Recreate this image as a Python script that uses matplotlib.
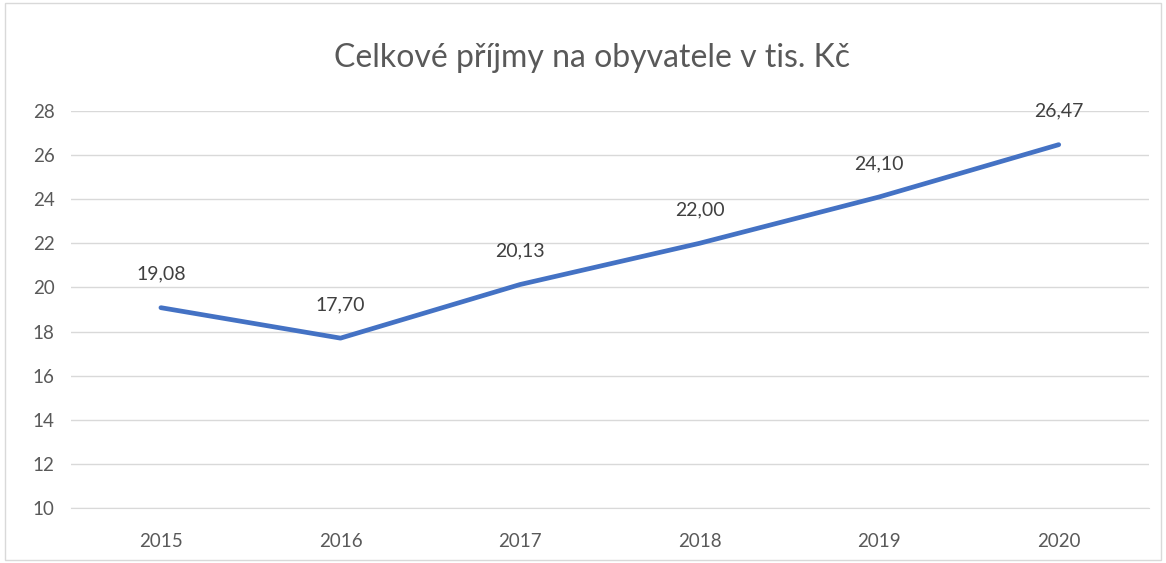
import matplotlib.pyplot as plt
from matplotlib.patches import Rectangle

plt.rcParams['font.family'] = ['Lato', 'DejaVu Sans']

roky = ["2015", "2016", "2017", "2018", "2019", "2020"]
prijmy = [19.08, 17.70, 20.13, 22.00, 24.10, 26.47]
y_ticks = [10, 12, 14, 16, 18, 20, 22, 24, 26, 28]

fig = plt.figure(figsize=(11.66, 5.63), dpi=100)
ax = fig.add_axes([0.061, 0.0977, 0.924, 0.7053])

x = range(len(roky))
ax.plot(x, prijmy, color="#4472C4", linewidth=3.4, solid_capstyle="round")

for xi, v in zip(x, prijmy):
    ax.annotate(f"{v:.2f}".replace(".", ","), (xi, v), xytext=(0, 18),
                textcoords="offset points", ha="center", va="bottom",
                fontsize=14, color="#404040")

ax.set_xlim(-0.5, len(roky) - 0.5)
ax.set_ylim(10, 28)
ax.set_yticks(y_ticks)
ax.set_xticks(list(x))
ax.set_xticklabels(roky)
ax.grid(axis="y", color="#D9D9D9", linewidth=1)
ax.set_axisbelow(True)
for s in ["top", "right", "left"]:
    ax.spines[s].set_visible(False)
ax.spines["bottom"].set_color("#D9D9D9")
ax.tick_params(length=0, labelsize=13.5, colors="#595959")
ax.tick_params(axis="x", pad=18)
ax.tick_params(axis="y", pad=12)

fig.text(0.508, 0.897, "Celkové příjmy na obyvatele v tis. Kč", ha="center", va="center",
         fontsize=23, color="#595959")

fig.patches.append(Rectangle((0.004, 0.006), 0.992, 0.988, transform=fig.transFigure,
                             fill=False, edgecolor="#D9D9D9", linewidth=1))

fig.savefig("out.png", dpi=100)
